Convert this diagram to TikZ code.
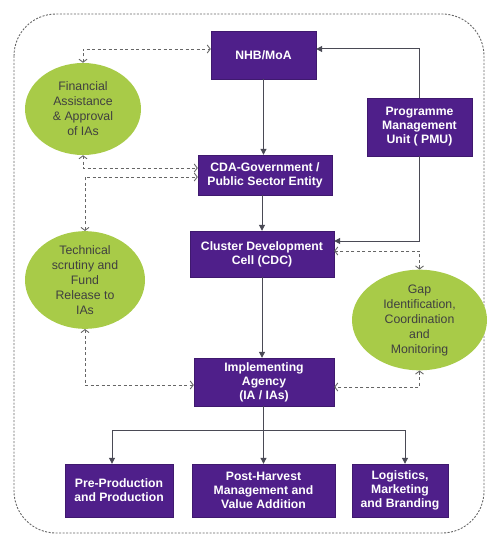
\documentclass[tikz,border=0pt]{standalone}
\usepackage{fontspec}
\setmainfont{Liberation Sans}
\usetikzlibrary{arrows.meta,shapes.geometric}
\definecolor{boxpurple}{HTML}{4F1F8A}
\definecolor{blobgreen}{HTML}{A8CB48}
\definecolor{linegray}{HTML}{4A4A55}
\tikzset{
    purplebox/.style={draw=boxpurple!80!black, fill=boxpurple, text=white, font=\bfseries\fontsize{12.2}{14}\selectfont, align=center, inner sep=2pt},
    greenblob/.style={ellipse, fill=blobgreen, text=black!75, font=\fontsize{12.3}{15}\selectfont, align=center, inner sep=0pt},
    solidlink/.style={draw=linegray, line width=1pt, -{Triangle[length=6pt,width=6pt]}},
    dashlink/.style={draw=black!60, line width=0.9pt, dash pattern=on 3pt off 2.5pt, {Straight Barb[length=3pt,width=8pt]}-{Straight Barb[length=3pt,width=8pt]}}
}
\begin{document}
\begin{tikzpicture}[x=1pt, y=-1pt]
    \useasboundingbox (0,0) rectangle (488,548);
    \draw[black!60, line width=0.9pt, dash pattern=on 2pt off 1.5pt, rounded corners=42pt] (14,14) rectangle (484,533);
    % boxes
    \node[purplebox, minimum width=105pt, minimum height=48pt] (nhb) at (263.5,55) {NHB/MoA};
    \node[purplebox, minimum width=105pt, minimum height=58pt] (pmu) at (419.5,127) {Programme\\Management\\Unit ( PMU)};
    \node[purplebox, minimum width=134pt, minimum height=40pt] (cda) at (265,175) {CDA-Government /\\Public Sector Entity};
    \node[purplebox, minimum width=144pt, minimum height=46pt] (cdc) at (262,254) {Cluster Development\\Cell (CDC)};
    \node[purplebox, minimum width=140pt, minimum height=48pt] (ia) at (264,382) {Implementing\\Agency\\(IA / IAs)};
    \node[purplebox, minimum width=108pt, minimum height=53pt] (pre) at (119,490.5) {Pre-Production\\and Production};
    \node[purplebox, minimum width=143pt, minimum height=53pt] (post) at (263.5,490.5) {Post-Harvest\\Management and\\Value Addition};
    \node[purplebox, minimum width=96pt, minimum height=53pt] (logi) at (400,490.5) {Logistics,\\Marketing\\and Branding};
    % ellipses
    \node[greenblob, minimum width=116pt, minimum height=92pt] (fin) at (83,109) {Financial\\Assistance\\\& Approval\\of IAs};
    \node[greenblob, minimum width=120pt, minimum height=96pt] (tech) at (85,280) {Technical\\scrutiny and\\Fund\\Release to\\IAs};
    \node[greenblob, minimum width=135pt, minimum height=100pt] (gap) at (419.5,320) {Gap\\Identification,\\Coordination\\and\\Monitoring};
    % solid links
    \draw[solidlink] (nhb.south) -- (nhb.south |- cda.north);
    \draw[solidlink] (cda.south -| cdc.north) -- (cdc.north);
    \draw[solidlink] (cdc.south) -- (cdc.south |- ia.north);
    \draw[solidlink] (pmu.north) |- ([yshift=6pt]nhb.east);
    \draw[solidlink] (pmu.south) |- ([yshift=13pt]cdc.east);
    \coordinate (split) at (263.5,430);
    \draw[linegray, line width=1pt] (ia.south -| split) -- (split);
    \draw[solidlink] (split) -- (post.north);
    \draw[solidlink] (split) -| ([xshift=-7pt]pre.north);
    \draw[solidlink] (split) -| ([xshift=5pt]logi.north);
    % dashed links
    \draw[dashlink] (fin.north) |- ([yshift=6pt]nhb.west);
    \draw[dashlink] (fin.south) |- ([yshift=7pt]cda.west);
    \draw[dashlink] (tech.north) |- ([yshift=-2pt]cda.west);
    \draw[dashlink] (tech.south) |- ([yshift=-3pt]ia.west);
    \draw[dashlink] (gap.north) |- ([yshift=3pt]cdc.east);
    \draw[dashlink] (gap.south) |- ([yshift=-5pt]ia.east);
\end{tikzpicture}
\end{document}
